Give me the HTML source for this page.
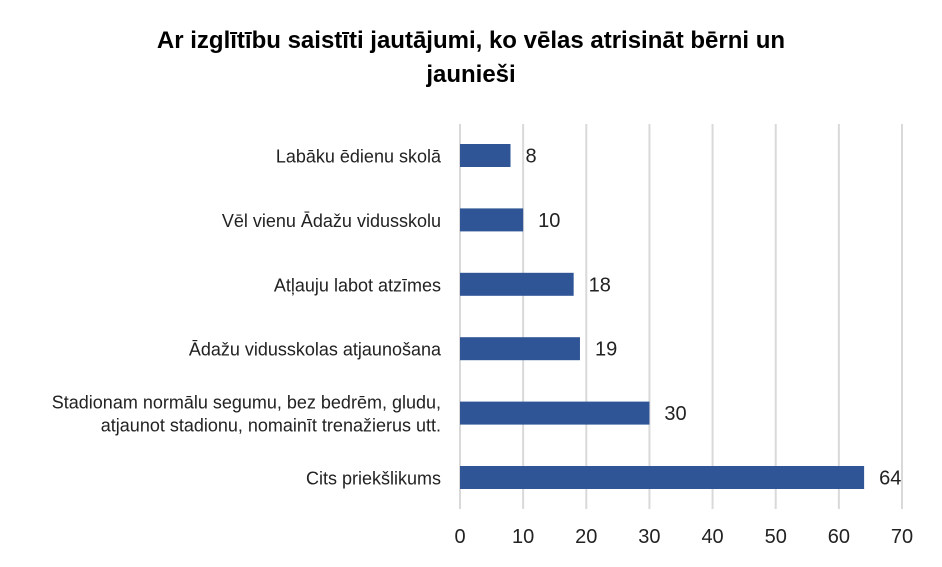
<!DOCTYPE html>
<html><head><meta charset="utf-8"><style>
html,body{margin:0;padding:0;background:#fff;}
svg{display:block;font-family:"Liberation Sans Narrow","Liberation Sans",sans-serif;}
</style></head><body>
<svg id="chart" width="942" height="567" viewBox="0 0 942 567">
<text x="471" y="48" text-anchor="middle" font-size="24" font-weight="bold" fill="#000">Ar izglītību saistīti jautājumi, ko vēlas atrisināt bērni un</text>
<text x="471" y="82" text-anchor="middle" font-size="24" font-weight="bold" fill="#000">jaunieši</text>
<g id="grid"></g><g id="bars"></g><g id="labels"></g>
</svg>
<script>
const categories=[["Labāku ēdienu skolā"],["Vēl vienu Ādažu vidusskolu"],["Atļauju labot atzīmes"],["Ādažu vidusskolas atjaunošana"],["Stadionam normālu segumu, bez bedrēm, gludu,","atjaunot stadionu, nomainīt trenažierus utt."],["Cits priekšlikums"]];
const values=[8,10,18,19,30,64];
const ticks=[0,10,20,30,40,50,60,70];
const NS="http://www.w3.org/2000/svg";
const x0=460,x1=902,xmax=70,yTop=124,yBot=509,rowTop=123.5,pitch=64.4,barH=23;
const xs=v=>x0+(x1-x0)*v/xmax;
const yc=i=>rowTop+pitch*i+32;
function mk(t,a,p){const e=document.createElementNS(NS,t);for(const k in a)e.setAttribute(k,a[k]);p.appendChild(e);return e;}
const grid=document.getElementById('grid'),bars=document.getElementById('bars'),labels=document.getElementById('labels');
ticks.forEach(t=>{
 const l=mk('line',{x1:xs(t),x2:xs(t),y1:yTop,y2:yBot,stroke:'#d9d9d9','stroke-width':2},grid);
 
 
 const tx=mk('text',{x:xs(t),y:543,'text-anchor':'middle','font-size':20,fill:'#222'},labels);
 tx.textContent=t;
 
 
});
values.forEach((v,i)=>{
 const c=yc(i);
 const r=mk('rect',{x:x0,y:c-barH/2,width:xs(v)-x0,height:barH,fill:'#2f5597'},bars);
 
 
 const vl=mk('text',{x:xs(v)+15,y:c+7,'font-size':20,fill:'#222'},labels);
 vl.textContent=v;
 
 
 const lines=categories[i];
 lines.forEach((s,j)=>{
  const cy=c+7+(j-(lines.length-1)/2)*23;
  const ct=mk('text',{x:441,y:cy,'text-anchor':'end','font-size':18,fill:'#222'},labels);
  ct.textContent=s;
  
  
 });
});
</script>
</body></html>
